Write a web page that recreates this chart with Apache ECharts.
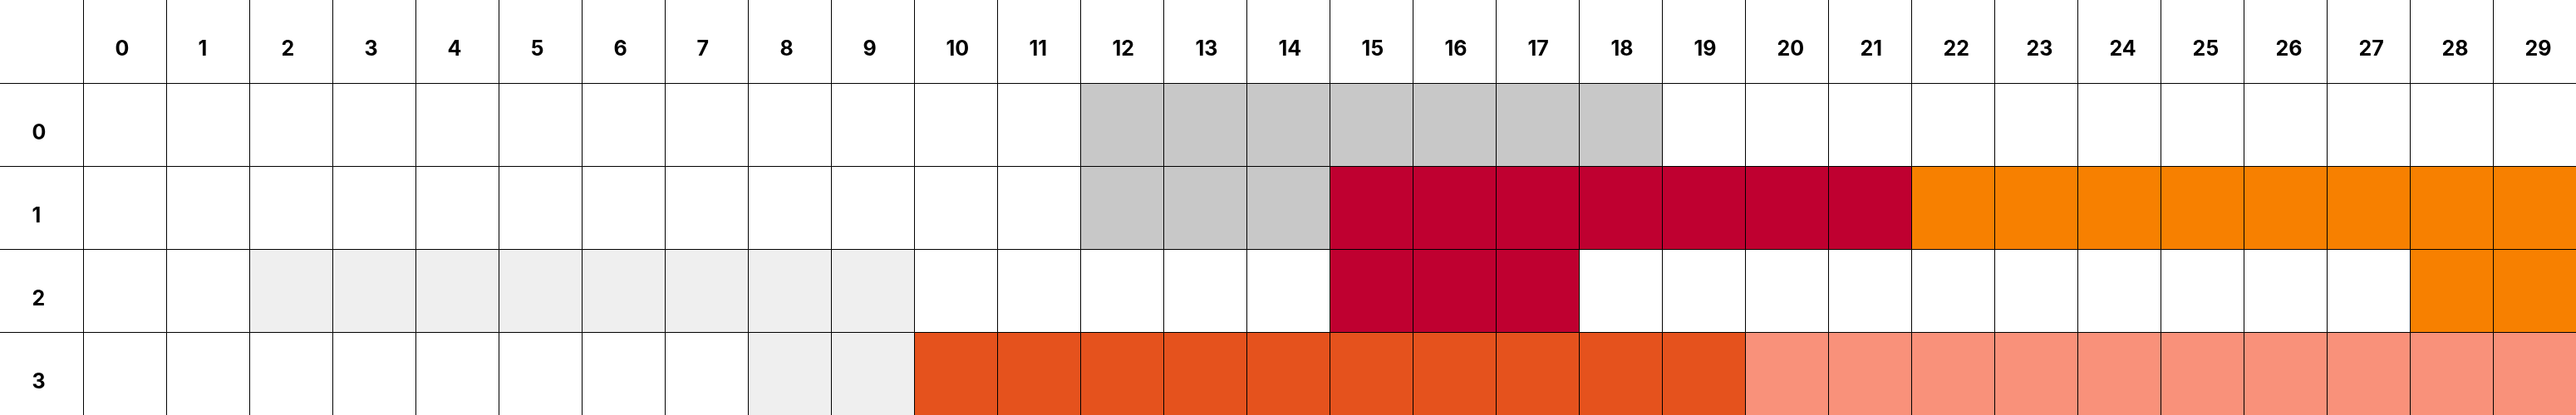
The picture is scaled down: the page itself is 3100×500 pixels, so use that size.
<!DOCTYPE html>
<html><head><meta charset="utf-8">
<script src="https://cdn.jsdelivr.net/npm/echarts@6.0.0/dist/echarts.min.js"></script>
<style>html,body{margin:0;padding:0;background:#fff;overflow:hidden}#c{width:3102px;height:502px;position:absolute;left:-1px;top:-1px}</style>
</head><body><div id="c"></div>
<script>
const xLabels = ['0','1','2','3','4','5','6','7','8','9','10','11','12','13','14','15','16','17','18','19','20','21','22','23','24','25','26','27','28','29'];
const yLabels = ['0','1','2','3'];
// group index -> colour
const groupColors = ['#c8c8c8', '#bf0030', '#f78000', '#efefef', '#e5521d', '#f9917a'];
// one entry per column, -1 = empty cell
const row0 = [-1,-1,-1,-1,-1,-1,-1,-1,-1,-1,-1,-1, 0, 0, 0, 0, 0, 0, 0,-1,-1,-1,-1,-1,-1,-1,-1,-1,-1,-1];
const row1 = [-1,-1,-1,-1,-1,-1,-1,-1,-1,-1,-1,-1, 0, 0, 0, 1, 1, 1, 1, 1, 1, 1, 2, 2, 2, 2, 2, 2, 2, 2];
const row2 = [-1,-1, 3, 3, 3, 3, 3, 3, 3, 3,-1,-1,-1,-1,-1, 1, 1, 1,-1,-1,-1,-1,-1,-1,-1,-1,-1,-1, 2, 2];
const row3 = [-1,-1,-1,-1,-1,-1,-1,-1, 3, 3, 4, 4, 4, 4, 4, 4, 4, 4, 4, 4, 5, 5, 5, 5, 5, 5, 5, 5, 5, 5];

const rows = [row0, row1, row2, row3];
const cells = [];
rows.forEach(function (r, y) {
  r.forEach(function (g, x) {
    if (g >= 0) cells.push({ value: [x, y, g], itemStyle: { color: groupColors[g] } });
  });
});

const cellStyle = { color: '#fff', borderColor: '#000', borderWidth: 1 };
const divider = { color: '#000', width: 1 };
const baseLabel = { color: '#000', fontFamily: 'Inter', fontWeight: 700, fontSize: 25 };

const chart = echarts.init(document.getElementById('c'));
chart.setOption({
  animation: false,
  matrix: {
    left: 0, top: 0, width: 3101.5, height: 501.5,
    backgroundStyle: { color: '#fff', borderWidth: 0 },
    x: {
      data: xLabels, levelSize: 101.5,
      label: Object.assign({}, baseLabel, { position: [35, 45] }),
      itemStyle: cellStyle, dividerLineStyle: divider
    },
    y: {
      data: yLabels, levelSize: 101.5,
      label: Object.assign({}, baseLabel, { position: [36, 45] }),
      itemStyle: cellStyle, dividerLineStyle: divider
    },
    body: { itemStyle: cellStyle },
    corner: { itemStyle: cellStyle }
  },
  series: [{
    type: 'heatmap',
    coordinateSystem: 'matrix',
    data: cells,
    itemStyle: { borderColor: '#000', borderWidth: 1 }
  }]
});
</script></body></html>
